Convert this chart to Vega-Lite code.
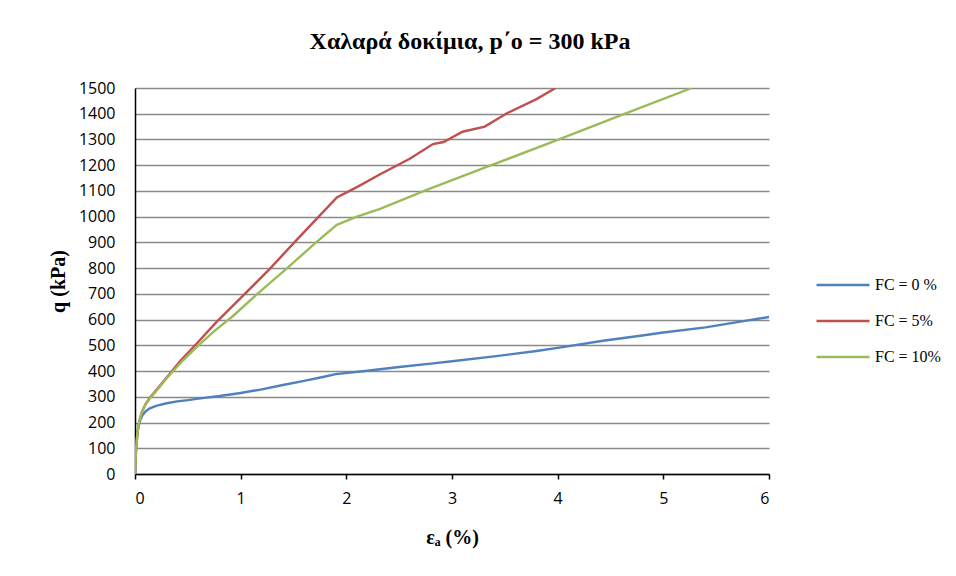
{
  "$schema": "https://vega.github.io/schema/vega-lite/v6.json",
  "width": 634,
  "height": 386,
  "autosize": {"type": "none"},
  "padding": {"left": 135, "top": 88, "right": 187, "bottom": 102},
  "background": "white",
  "title": {
    "text": "Χαλαρά δοκίμια, p΄ο = 300 kPa",
    "font": "Liberation Serif",
    "fontSize": 24,
    "fontWeight": "bold",
    "color": "black",
    "anchor": "middle",
    "baseline": "alphabetic",
    "offset": 7,
    "dx": 18
  },
  "config": {
    "view": {"stroke": null},
    "axis": {
      "labelFont": "Open Sans",
      "labelFontSize": 16,
      "labelColor": "black",
      "titleFont": "Liberation Serif",
      "titleFontSize": 20,
      "titleFontWeight": "bold",
      "titleColor": "black",
      "domainColor": "black",
      "domainWidth": 1.5
    }
  },
  "data": {
    "values": [
      {"s": "FC = 0 %", "e": 0, "q": 0},
      {"s": "FC = 0 %", "e": 0.005, "q": 50},
      {"s": "FC = 0 %", "e": 0.01, "q": 95},
      {"s": "FC = 0 %", "e": 0.02, "q": 145},
      {"s": "FC = 0 %", "e": 0.03, "q": 180},
      {"s": "FC = 0 %", "e": 0.05, "q": 210},
      {"s": "FC = 0 %", "e": 0.07, "q": 228},
      {"s": "FC = 0 %", "e": 0.1, "q": 243},
      {"s": "FC = 0 %", "e": 0.14, "q": 255},
      {"s": "FC = 0 %", "e": 0.2, "q": 265},
      {"s": "FC = 0 %", "e": 0.3, "q": 275},
      {"s": "FC = 0 %", "e": 0.4, "q": 282},
      {"s": "FC = 0 %", "e": 0.5, "q": 287},
      {"s": "FC = 0 %", "e": 0.6, "q": 293},
      {"s": "FC = 0 %", "e": 0.8, "q": 303},
      {"s": "FC = 0 %", "e": 1.0, "q": 315},
      {"s": "FC = 0 %", "e": 1.2, "q": 329},
      {"s": "FC = 0 %", "e": 1.4, "q": 346},
      {"s": "FC = 0 %", "e": 1.6, "q": 362},
      {"s": "FC = 0 %", "e": 1.8, "q": 379},
      {"s": "FC = 0 %", "e": 1.9, "q": 388},
      {"s": "FC = 0 %", "e": 2.2, "q": 401},
      {"s": "FC = 0 %", "e": 2.5, "q": 416},
      {"s": "FC = 0 %", "e": 2.8, "q": 429},
      {"s": "FC = 0 %", "e": 3.0, "q": 438},
      {"s": "FC = 0 %", "e": 3.4, "q": 457},
      {"s": "FC = 0 %", "e": 3.8, "q": 478},
      {"s": "FC = 0 %", "e": 4.0, "q": 490},
      {"s": "FC = 0 %", "e": 4.43, "q": 518},
      {"s": "FC = 0 %", "e": 4.8, "q": 538},
      {"s": "FC = 0 %", "e": 5.0, "q": 550},
      {"s": "FC = 0 %", "e": 5.4, "q": 570},
      {"s": "FC = 0 %", "e": 5.7, "q": 590},
      {"s": "FC = 0 %", "e": 6.0, "q": 610},
      {"s": "FC = 5%", "e": 0, "q": 0},
      {"s": "FC = 5%", "e": 0.005, "q": 50},
      {"s": "FC = 5%", "e": 0.01, "q": 95},
      {"s": "FC = 5%", "e": 0.02, "q": 145},
      {"s": "FC = 5%", "e": 0.03, "q": 182},
      {"s": "FC = 5%", "e": 0.05, "q": 220},
      {"s": "FC = 5%", "e": 0.07, "q": 246},
      {"s": "FC = 5%", "e": 0.1, "q": 272},
      {"s": "FC = 5%", "e": 0.14, "q": 296},
      {"s": "FC = 5%", "e": 0.2, "q": 325},
      {"s": "FC = 5%", "e": 0.3, "q": 375},
      {"s": "FC = 5%", "e": 0.43, "q": 440},
      {"s": "FC = 5%", "e": 0.58, "q": 505},
      {"s": "FC = 5%", "e": 0.77, "q": 590},
      {"s": "FC = 5%", "e": 1.03, "q": 696},
      {"s": "FC = 5%", "e": 1.28, "q": 799},
      {"s": "FC = 5%", "e": 1.53, "q": 910},
      {"s": "FC = 5%", "e": 1.75, "q": 1005},
      {"s": "FC = 5%", "e": 1.91, "q": 1075},
      {"s": "FC = 5%", "e": 2.1, "q": 1115},
      {"s": "FC = 5%", "e": 2.32, "q": 1165},
      {"s": "FC = 5%", "e": 2.6, "q": 1225},
      {"s": "FC = 5%", "e": 2.82, "q": 1282},
      {"s": "FC = 5%", "e": 2.92, "q": 1290},
      {"s": "FC = 5%", "e": 3.1, "q": 1330},
      {"s": "FC = 5%", "e": 3.31, "q": 1350},
      {"s": "FC = 5%", "e": 3.52, "q": 1402},
      {"s": "FC = 5%", "e": 3.8, "q": 1457},
      {"s": "FC = 5%", "e": 3.98, "q": 1500},
      {"s": "FC = 10%", "e": 0, "q": 0},
      {"s": "FC = 10%", "e": 0.005, "q": 50},
      {"s": "FC = 10%", "e": 0.01, "q": 95},
      {"s": "FC = 10%", "e": 0.02, "q": 145},
      {"s": "FC = 10%", "e": 0.03, "q": 182},
      {"s": "FC = 10%", "e": 0.05, "q": 220},
      {"s": "FC = 10%", "e": 0.07, "q": 245},
      {"s": "FC = 10%", "e": 0.1, "q": 270},
      {"s": "FC = 10%", "e": 0.14, "q": 294},
      {"s": "FC = 10%", "e": 0.2, "q": 322},
      {"s": "FC = 10%", "e": 0.3, "q": 372},
      {"s": "FC = 10%", "e": 0.45, "q": 440},
      {"s": "FC = 10%", "e": 0.6, "q": 500},
      {"s": "FC = 10%", "e": 0.75, "q": 555},
      {"s": "FC = 10%", "e": 0.93, "q": 615},
      {"s": "FC = 10%", "e": 1.18, "q": 708},
      {"s": "FC = 10%", "e": 1.44, "q": 800},
      {"s": "FC = 10%", "e": 1.7, "q": 895},
      {"s": "FC = 10%", "e": 1.91, "q": 968},
      {"s": "FC = 10%", "e": 2.1, "q": 1000},
      {"s": "FC = 10%", "e": 2.32, "q": 1030},
      {"s": "FC = 10%", "e": 2.76, "q": 1104},
      {"s": "FC = 10%", "e": 3.36, "q": 1198},
      {"s": "FC = 10%", "e": 4.0, "q": 1298},
      {"s": "FC = 10%", "e": 4.65, "q": 1402},
      {"s": "FC = 10%", "e": 5.27, "q": 1500}
    ]
  },
  "mark": {"type": "line", "strokeWidth": 2.4, "clip": true},
  "encoding": {
    "x": {
      "field": "e",
      "type": "quantitative",
      "scale": {"domain": [0, 6], "nice": false},
      "axis": {
        "title": "εₐ (%)",
        "values": [0, 1, 2, 3, 4, 5, 6],
        "grid": false,
        "tickColor": "black",
        "tickWidth": 1.5,
        "tickSize": 5,
        "labelPadding": 11,
        "titlePadding": 21,
        "encode": {"ticks": {"update": {"y": {"value": -5}}}}
      }
    },
    "y": {
      "field": "q",
      "type": "quantitative",
      "scale": {"domain": [0, 1500], "nice": false},
      "axis": {
        "title": "q (kPa)",
        "format": "d",
        "values": [0, 100, 200, 300, 400, 500, 600, 700, 800, 900, 1000, 1100, 1200, 1300, 1400, 1500],
        "ticks": false,
        "labelPadding": 20,
        "titlePadding": 10,
        "gridColor": "#8a8a8a",
        "gridWidth": 1.5,
        "gridOpacity": 1
      }
    },
    "color": {
      "field": "s",
      "type": "nominal",
      "scale": {
        "domain": ["FC = 0 %", "FC = 5%", "FC = 10%"],
        "range": ["#4F81BD", "#C0504D", "#9BBB59"]
      },
      "legend": {
        "title": null,
        "orient": "none",
        "legendX": 680,
        "legendY": 169,
        "symbolType": "stroke",
        "symbolSize": 2809,
        "symbolStrokeWidth": 2.5,
        "labelFont": "Liberation Serif",
        "labelFontSize": 16,
        "labelColor": "black",
        "labelOffset": 4,
        "rowPadding": -1.5
      }
    }
  }
}
